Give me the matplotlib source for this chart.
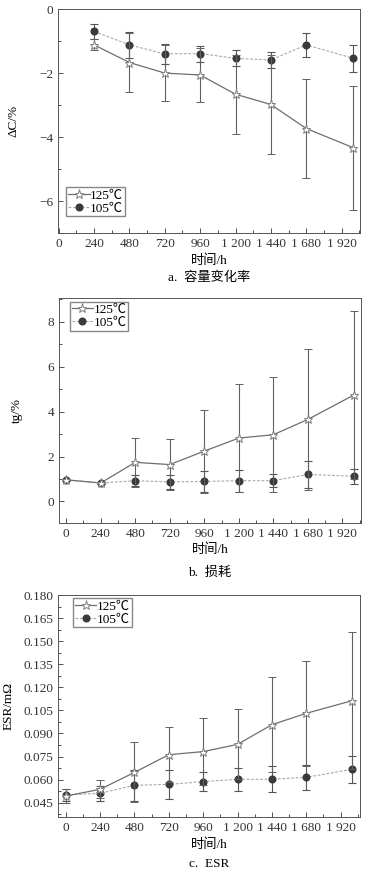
import matplotlib
matplotlib.use("Agg")
import matplotlib.pyplot as plt
from matplotlib.ticker import MultipleLocator, FixedLocator
from matplotlib.lines import Line2D

plt.rcParams['font.family'] = ['Liberation Serif', 'Noto Sans CJK SC', 'DejaVu Sans']
plt.rcParams['axes.unicode_minus'] = True

# ---- data ----
hours_a = [240, 480, 720, 960, 1200, 1440, 1680, 2000]
dc_125 = [-1.12, -1.67, -2.00, -2.06, -2.66, -2.98, -3.73, -4.33]
dc_125_err = [0.17, 0.93, 0.87, 0.85, 1.24, 1.54, 1.54, 1.94]
dc_105 = [-0.70, -1.12, -1.40, -1.39, -1.54, -1.59, -1.12, -1.54]
dc_105_err = [0.23, 0.40, 0.31, 0.25, 0.25, 0.24, 0.37, 0.42]

hours_b = [0, 240, 480, 720, 960, 1200, 1440, 1680, 2000]
tg_125 = [0.96, 0.82, 1.74, 1.64, 2.24, 2.82, 2.97, 3.65, 4.74]
tg_125_err = [0.05, 0.05, 1.09, 1.15, 1.85, 2.42, 2.57, 3.15, 3.73]
tg_105 = [0.96, 0.82, 0.92, 0.87, 0.89, 0.92, 0.92, 1.20, 1.12]
tg_105_err = [0.05, 0.05, 0.24, 0.32, 0.48, 0.50, 0.28, 0.62, 0.33]

hours_c = [0, 240, 480, 720, 960, 1200, 1440, 1680, 2000]
esr_125 = [0.0493, 0.0537, 0.0647, 0.0762, 0.0782, 0.0829, 0.0957, 0.1031, 0.1113]
esr_125_err = [0.0045, 0.0058, 0.0195, 0.0178, 0.0216, 0.0228, 0.0308, 0.0340, 0.0446]
esr_105 = [0.0500, 0.0511, 0.0563, 0.0569, 0.0587, 0.0602, 0.0602, 0.0615, 0.0667]
esr_105_err = [0.0040, 0.0050, 0.0100, 0.0095, 0.0062, 0.0075, 0.0085, 0.0083, 0.0087]

xticks = [0, 240, 480, 720, 960, 1200, 1440, 1680, 1920]
xticklabels = ['0', '240', '480', '720', '960', '1 200', '1 440', '1 680', '1 920']
labels = ['125℃', '105℃']
xlabel = '时间/h'

W, H = 383, 876
fig = plt.figure(figsize=(W / 100, H / 100), dpi=100)

def px_axes(l, t, r, b):
    return fig.add_axes([l / W, 1 - b / H, (r - l) / W, (b - t) / H])

c105 = '#3a3a3a'
fs = 9.5
ls105 = (0, (2.5, 1.5))
st125 = dict(color='#6e6e6e', ls='-', lw=0.9, marker='*', ms=6.5, mfc='white', mec='#808080', mew=0.7)
st105 = dict(color='#a8a8a8', ls=ls105, lw=0.8, marker='o', ms=4.8, mfc=c105, mec=c105)

def draw(ax, x, y1, e1, y2, e2):
    ax.errorbar(x, y2, yerr=e2, ecolor='#555555', elinewidth=0.8, capsize=3,
                capthick=0.8, zorder=2, **st105)
    ax.errorbar(x, y1, yerr=e1, ecolor='#606060', elinewidth=0.8, capsize=3,
                capthick=0.8, zorder=3, **st125)
    ax.xaxis.set_major_locator(FixedLocator(xticks))
    ax.set_xticklabels(xticklabels)
    ax.xaxis.set_minor_locator(FixedLocator([t + 120 for t in xticks]))
    ax.tick_params(which='both', direction='in', labelsize=fs, colors='#333333')
    ax.tick_params(which='major', length=3.5, width=0.6)
    ax.tick_params(which='minor', length=2, width=0.6)
    for s in ax.spines.values():
        s.set_color('#555555')
        s.set_linewidth(0.7)
    ax.set_xlabel(xlabel, fontsize=fs, labelpad=3)

def legend(ax, loc, anchor):
    h = [Line2D([], [], **st125), Line2D([], [], **st105)]
    ax.legend(h, labels, loc=loc, bbox_to_anchor=anchor, fontsize=fs,
              handlelength=1.6, handletextpad=0.05, borderpad=0.15, labelspacing=0.05,
              fancybox=False, edgecolor='#888888', framealpha=1, borderaxespad=0)

# panel a
axa = px_axes(58, 9, 360, 233.3)
draw(axa, hours_a, dc_125, dc_125_err, dc_105, dc_105_err)
axa.set_xlim(-5, 2045)
axa.set_ylim(-7, 0)
axa.yaxis.set_major_locator(MultipleLocator(2))
axa.yaxis.set_minor_locator(MultipleLocator(1))
axa.set_ylabel('ΔC/%', fontsize=fs, labelpad=14)
legend(axa, 'lower left', (0.028, 0.075))
fig.text((58 + 360) / 2 / W, 1 - 278 / H, 'a.  容量变化率', ha='center', va='center', fontsize=fs)

# panel b
axb = px_axes(59, 298.3, 361, 522.7)
draw(axb, hours_b, tg_125, tg_125_err, tg_105, tg_105_err)
axb.set_xlim(-50, 2050)
axb.set_ylim(-0.95, 9.05)
axb.yaxis.set_major_locator(MultipleLocator(2))
axb.yaxis.set_minor_locator(MultipleLocator(1))
axb.set_ylabel('tg/%', fontsize=fs, labelpad=18)
legend(axb, 'upper left', (0.035, 0.985))
fig.text((59 + 361) / 2 / W, 1 - 573 / H, 'b.  损耗', ha='center', va='center', fontsize=fs)

# panel c
axc = px_axes(58.3, 595, 360, 817.3)
draw(axc, hours_c, esr_125, esr_125_err, esr_105, esr_105_err)
axc.set_xlim(-52, 2055)
axc.set_ylim(0.0355, 0.180)
axc.yaxis.set_major_locator(MultipleLocator(0.015))
axc.yaxis.set_minor_locator(MultipleLocator(0.0075))
axc.yaxis.set_major_formatter(plt.FormatStrFormatter('%.3f'))
axc.set_ylabel('ESR/mΩ', fontsize=fs, labelpad=6)
legend(axc, 'upper left', (0.05, 0.985))
fig.text((58 + 360) / 2 / W, 1 - 864 / H, 'c.  ESR', ha='center', va='center', fontsize=fs)

fig.savefig('out.png', dpi=100, facecolor='white')
